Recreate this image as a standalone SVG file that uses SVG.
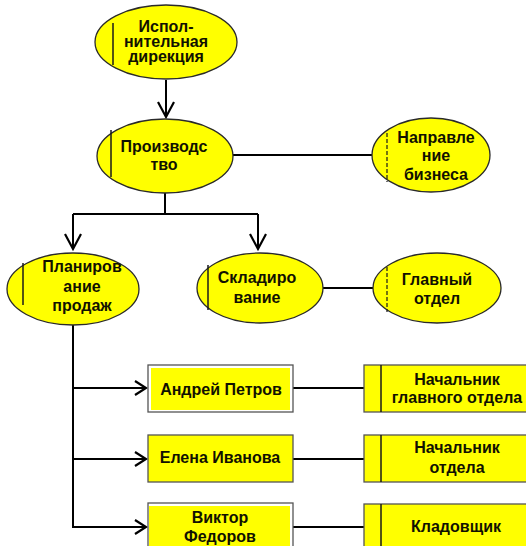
<svg xmlns="http://www.w3.org/2000/svg" width="526" height="546" viewBox="0 0 526 546">
  <style>
    .oval { fill: #ffff00; stroke: #2a2a2a; stroke-width: 1.3; }
    .bar { stroke: #1a1a1a; stroke-width: 1.5; }
    .dash { stroke: #1a1a1a; stroke-width: 1.2; stroke-dasharray: 4 2; }
    .box { fill: #ffff00; stroke: #555555; stroke-width: 1.3; }
    .frame { fill: #ffffff; stroke: #555555; stroke-width: 1.3; }
    .fill { fill: #ffff00; stroke: none; }
    .lbl { font-family: "Liberation Sans", Arial, sans-serif; font-weight: bold; font-size: 16px; fill: #111100; text-anchor: middle; }
    .wire { fill: none; stroke: #000000; stroke-width: 2; }
    .tip { fill: none; stroke: #000000; stroke-width: 2.2; }
  </style>
  <defs>
    <marker id="arrowDown" markerUnits="userSpaceOnUse" markerWidth="24" markerHeight="24" viewBox="-18 -12 20 24" refX="0" refY="0" orient="auto">
      <path class="tip" d="M-15,-8 L0,0 L-15,8"/>
    </marker>
    <marker id="arrowRight" markerUnits="userSpaceOnUse" markerWidth="24" markerHeight="24" viewBox="-14 -12 16 24" refX="0" refY="0" orient="auto">
      <path class="tip" d="M-11,-7 L0,0 L-11,7"/>
    </marker>
  </defs>

  <!-- connectors -->
  <g id="connectors">
    <path class="wire" d="M166,80 V117" marker-end="url(#arrowDown)"/>
    <path class="wire" d="M165,193 V214"/>
    <path class="wire" d="M73,214 H258"/>
    <path class="wire" d="M73,214 V249" marker-end="url(#arrowDown)"/>
    <path class="wire" d="M258,214 V249" marker-end="url(#arrowDown)"/>
    <path class="wire" d="M233,155 H372"/>
    <path class="wire" d="M323,288 H373"/>
    <path class="wire" d="M73,325 V528"/>
    <path class="wire" d="M73,388 H146" marker-end="url(#arrowRight)"/>
    <path class="wire" d="M73,459 H146" marker-end="url(#arrowRight)"/>
    <path class="wire" d="M73,527 H146" marker-end="url(#arrowRight)"/>
    <path class="wire" d="M293,388 H364"/>
    <path class="wire" d="M293,459 H364"/>
    <path class="wire" d="M293,527 H364"/>
  </g>

  <!-- oval units -->
  <g id="executive-board">
    <ellipse class="oval" cx="166" cy="42" rx="71" ry="37"/>
    <line class="bar" x1="113" y1="23" x2="113" y2="65"/>
    <text class="lbl" x="166" y="32">Испол-</text>
    <text class="lbl" x="166" y="47">нительная</text>
    <text class="lbl" x="166" y="62">дирекция</text>
  </g>

  <g id="production">
    <ellipse class="oval" cx="165" cy="156" rx="68" ry="37"/>
    <line class="bar" x1="111" y1="130" x2="111" y2="177"/>
    <text class="lbl" x="164" y="152">Производс</text>
    <text class="lbl" x="164" y="170">тво</text>
  </g>

  <g id="business-line">
    <ellipse class="oval" cx="431" cy="155" rx="59" ry="37"/>
    <line class="dash" x1="387" y1="133" x2="387" y2="182"/>
    <text class="lbl" x="436" y="143">Направле</text>
    <text class="lbl" x="436" y="161">ние</text>
    <text class="lbl" x="436" y="180">бизнеса</text>
  </g>

  <g id="sales-planning">
    <ellipse class="oval" cx="73" cy="289" rx="66" ry="36"/>
    <line class="bar" x1="23" y1="263" x2="23" y2="305"/>
    <text class="lbl" x="82" y="272">Планиров</text>
    <text class="lbl" x="82" y="292">ание</text>
    <text class="lbl" x="82" y="311">продаж</text>
  </g>

  <g id="warehousing">
    <ellipse class="oval" cx="260" cy="288" rx="63" ry="35"/>
    <line class="bar" x1="208" y1="265" x2="208" y2="310"/>
    <text class="lbl" x="257" y="283">Складиро</text>
    <text class="lbl" x="257" y="303">вание</text>
  </g>

  <g id="main-department">
    <ellipse class="oval" cx="437" cy="288" rx="64" ry="35"/>
    <line class="dash" x1="387" y1="267" x2="387" y2="312"/>
    <text class="lbl" x="437" y="285">Главный</text>
    <text class="lbl" x="437" y="304">отдел</text>
  </g>

  <!-- people -->
  <g id="andrey-petrov">
    <rect class="frame" x="148" y="365" width="145" height="47"/>
    <rect class="fill" x="151" y="368" width="139" height="42"/>
    <text class="lbl" x="221" y="395">Андрей Петров</text>
  </g>

  <g id="elena-ivanova">
    <rect class="box" x="148" y="435" width="145" height="47"/>
    <text class="lbl" x="220" y="463">Елена Иванова</text>
  </g>

  <g id="viktor-fedorov">
    <rect class="frame" x="148" y="503" width="145" height="60"/>
    <rect class="fill" x="149" y="506" width="141" height="57"/>
    <text class="lbl" x="220" y="523">Виктор</text>
    <text class="lbl" x="220" y="542">Федоров</text>
  </g>

  <!-- positions -->
  <g id="head-of-main-department">
    <rect class="box" x="364" y="365" width="170" height="47"/>
    <line class="bar" x1="381" y1="365" x2="381" y2="412"/>
    <text class="lbl" x="457" y="385">Начальник</text>
    <text class="lbl" x="457" y="403">главного отдела</text>
  </g>

  <g id="head-of-department">
    <rect class="box" x="364" y="435" width="170" height="47"/>
    <line class="bar" x1="381" y1="435" x2="381" y2="482"/>
    <text class="lbl" x="457" y="453">Начальник</text>
    <text class="lbl" x="457" y="473">отдела</text>
  </g>

  <g id="storekeeper">
    <rect class="box" x="364" y="504" width="170" height="60"/>
    <line class="bar" x1="381" y1="504" x2="381" y2="564"/>
    <text class="lbl" x="456" y="532">Кладовщик</text>
  </g>
</svg>
